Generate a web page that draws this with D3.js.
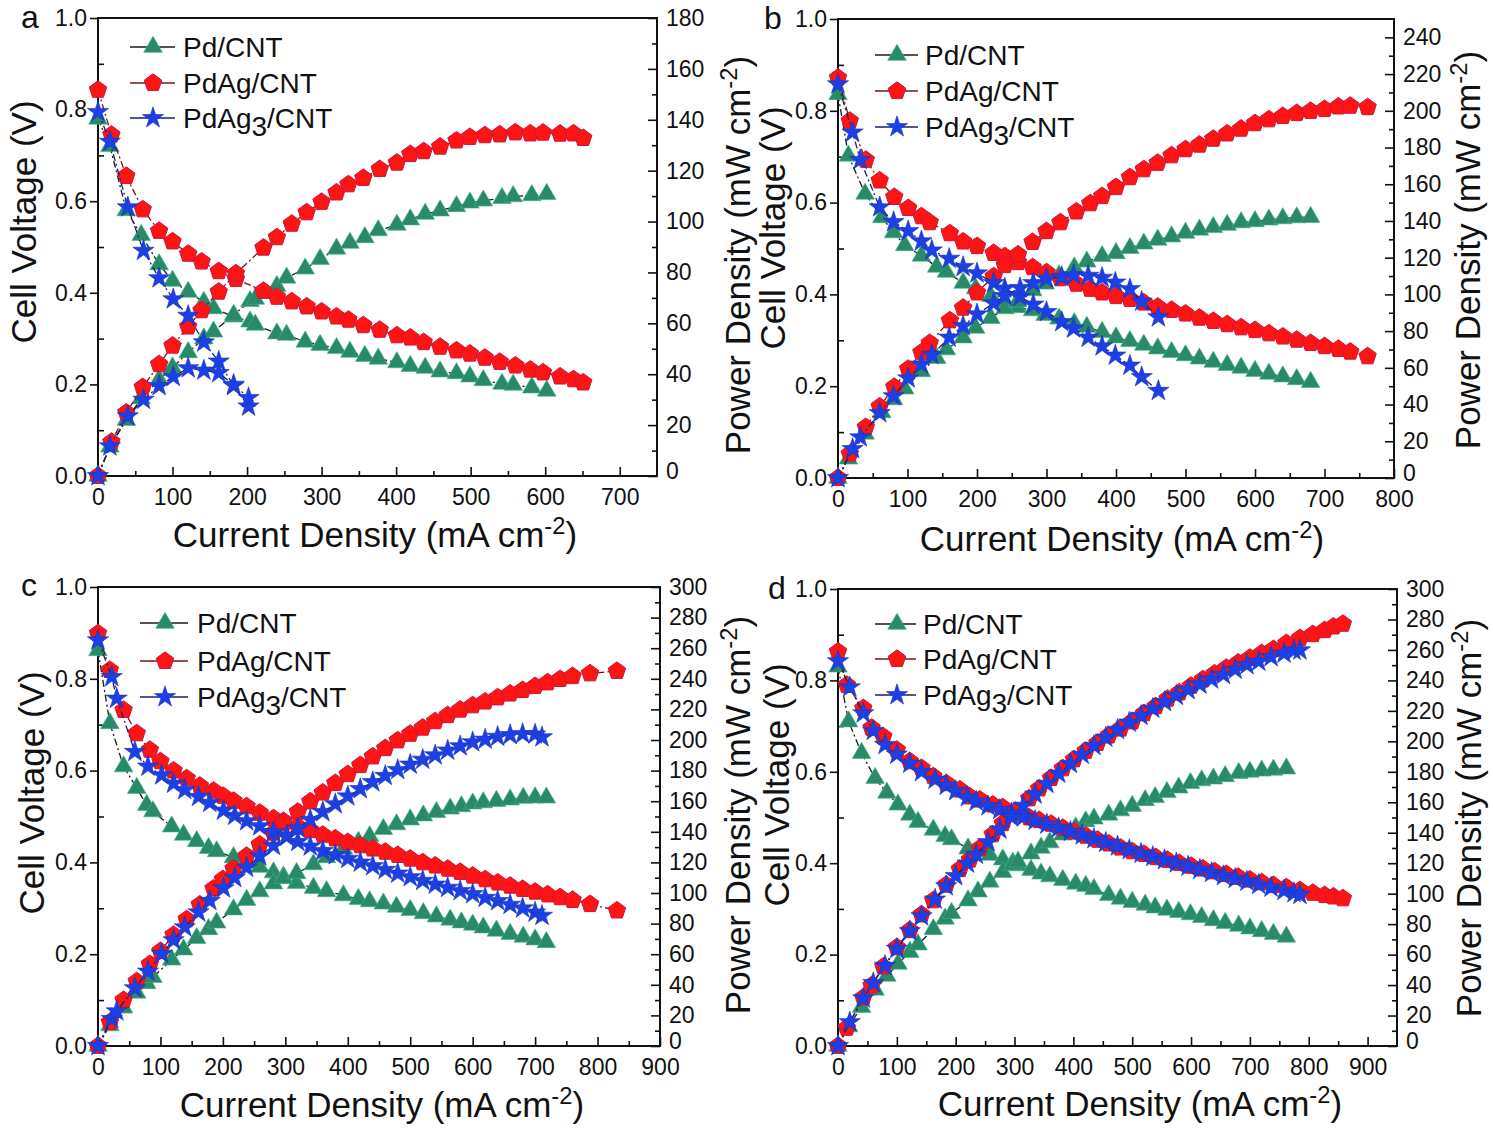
<!DOCTYPE html>
<html><head><meta charset="utf-8">
<script src="https://cdn.jsdelivr.net/npm/d3@7"></script>
<style>
body{margin:0;background:#fff}
svg{display:block}
text{font-family:"Liberation Sans",Arial,Helvetica,sans-serif;fill:#111}
</style>
</head><body>
<svg id="chart" width="1493" height="1131"></svg>
<script>
// ---------------- DATA ----------------
const seriesNames = ["Pd/CNT", "PdAg/CNT", "PdAg3/CNT"];
const voltTicks = [0, 0.2, 0.4, 0.6, 0.8, 1.0];
const aCurrentTicks = [0, 100, 200, 300, 400, 500, 600, 700];
const bCurrentTicks = [0, 100, 200, 300, 400, 500, 600, 700, 800];
const cCurrentTicks = [0, 100, 200, 300, 400, 500, 600, 700, 800, 900];
const dCurrentTicks = [0, 100, 200, 300, 400, 500, 600, 700, 800, 900];
const aPowerTicks = [0, 20, 40, 60, 80, 100, 120, 140, 160, 180];
const bPowerTicks = [0, 20, 40, 60, 80, 100, 120, 140, 160, 180, 200, 220, 240];
const cPowerTicks = [0, 20, 40, 60, 80, 100, 120, 140, 160, 180, 200, 220, 240, 260, 280, 300];
const dPowerTicks = [0, 20, 40, 60, 80, 100, 120, 140, 160, 180, 200, 220, 240, 260, 280, 300];

// panel a
const aPdI = [0,16,38,58,82,100,121,142,155,182,204,211,240,253,278,298,320,338,358,376,401,419,439,459,481,499,517,542,557,582,602];
const aPdV = [0.78,0.72,0.58,0.526,0.462,0.426,0.402,0.38,0.366,0.348,0.337,0.33,0.311,0.308,0.293,0.286,0.279,0.271,0.262,0.256,0.248,0.24,0.236,0.228,0.224,0.217,0.209,0.201,0.199,0.193,0.186];
const aPdP = [0,11.5,22,30.5,37.9,42.6,48.6,54,56.7,63.3,68.7,69.6,74.6,77.9,81.5,85.2,89.3,91.6,93.8,96.5,98.7,100.8,103,104.3,106,107.4,108.2,109.2,109.9,110.3,110.8];
const aAgI = [0,18,38,60,82,100,121,139,162,185,222,240,260,280,300,320,336,356,378,401,419,437,459,481,499,519,539,560,580,597,620,638,651];
const aAgV = [0.843,0.745,0.655,0.582,0.535,0.512,0.485,0.468,0.447,0.43,0.404,0.391,0.381,0.37,0.359,0.348,0.341,0.329,0.319,0.307,0.302,0.292,0.282,0.274,0.267,0.258,0.249,0.241,0.232,0.226,0.217,0.211,0.204];
const aAgP = [0,13.4,24.9,34.9,43.9,51.2,58.7,65.1,72.4,79.6,89.7,93.8,99.1,103.6,107.7,111.4,114.6,117.1,120.6,123.1,126.5,127.6,129.4,131.8,133.2,133.9,134.2,135,134.6,134.9,134.5,134.6,132.8];
const aAg3I = [0,16,40,61,82,101,121,142,162,182,202];
const aAg3V = [0.795,0.73,0.587,0.492,0.432,0.386,0.35,0.292,0.25,0.197,0.152];
const aAg3P = [0,11.7,23.5,30,35.4,39,42.4,41.5,40.5,35.9,30.7];

// panel b
const bPdI = [0,15,39,63,80,96,120,142,156,180,198,220,240,258,280,298,318,340,358,380,400,420,440,460,480,500,520,540,560,580,600,620,640,660,680];
const bPdV = [0.836,0.702,0.619,0.568,0.535,0.507,0.484,0.46,0.449,0.425,0.413,0.396,0.385,0.372,0.365,0.355,0.347,0.337,0.329,0.318,0.306,0.298,0.29,0.282,0.274,0.267,0.26,0.253,0.246,0.24,0.233,0.227,0.221,0.215,0.209];
const bPdP = [0,10.5,24.1,35.8,42.8,48.7,58.1,65.3,70,76.5,81.8,87.1,92.4,96,102.2,105.8,110.3,114.6,117.8,120.8,122.4,125.2,127.6,129.7,131.5,133.5,135.2,136.6,137.8,139.2,139.8,140.7,141.4,141.9,142.1];
const bAgI = [0,17,40,60,81,101,120,132,161,180,200,224,240,259,280,300,320,343,363,380,400,420,440,460,480,500,520,540,560,580,600,620,640,660,680,700,720,737,762];
const bAgV = [0.872,0.778,0.693,0.648,0.612,0.588,0.57,0.557,0.533,0.515,0.505,0.49,0.483,0.47,0.459,0.448,0.435,0.423,0.412,0.404,0.396,0.39,0.382,0.373,0.366,0.358,0.349,0.342,0.335,0.328,0.322,0.315,0.308,0.301,0.294,0.287,0.281,0.275,0.265];
const bAgP = [0,13.2,27.7,38.9,49.6,59.4,68.4,73.5,85.8,92.7,101,109.8,115.9,121.7,128.5,134.4,139.2,145.1,149.6,153.5,158.4,163.8,168.1,171.6,175.7,179,181.5,184.7,187.6,190.2,193.2,195.3,197.1,198.7,199.9,200.9,202.3,202.7,201.9];
const bAg3I = [0,21,32,60,80,101,120,135,160,180,200,224,240,262,281,300,322,339,360,380,399,420,437,461];
const bAg3V = [0.858,0.753,0.693,0.59,0.558,0.538,0.516,0.496,0.478,0.46,0.446,0.425,0.413,0.395,0.378,0.362,0.34,0.326,0.306,0.287,0.267,0.245,0.22,0.19];
const bAg3P = [0,15.8,22.2,35.4,44.6,54.3,61.9,67,76.5,82.8,89.2,95.2,99.1,103.5,106.2,108.6,109.5,110.5,110.2,109.1,106.5,102.9,96.1,87.6];

// panel c
const cPdI = [0,19,41,62,78,88,118,137,158,177,190,217,238,259,281,297,318,345,366,393,417,435,457,478,500,521,542,564,582,600,617,638,660,681,700,718];
const cPdV = [0.862,0.703,0.609,0.562,0.525,0.511,0.478,0.46,0.446,0.431,0.424,0.411,0.401,0.39,0.378,0.369,0.355,0.344,0.337,0.328,0.32,0.315,0.31,0.303,0.296,0.289,0.282,0.275,0.269,0.264,0.258,0.251,0.244,0.238,0.232,0.226];
const cPdP = [0,13.4,25,34.8,41,45,56.4,63,70.5,76.3,80.6,89.2,95.4,101,106.2,109.6,112.9,118.7,123.3,128.9,133.4,137,141.7,144.8,148,150.6,152.8,155.1,156.6,158.4,159.2,160.1,161,162.1,162.4,162.3];
const cAgI = [0,19,41,62,83,100,121,142,163,185,200,217,238,259,281,297,320,340,360,380,400,420,440,460,480,500,520,540,560,580,600,620,640,660,680,700,720,740,760,788,831];
const cAgV = [0.899,0.819,0.732,0.681,0.645,0.62,0.6,0.583,0.567,0.556,0.545,0.534,0.522,0.508,0.496,0.49,0.478,0.47,0.46,0.452,0.444,0.437,0.43,0.423,0.416,0.408,0.4,0.393,0.386,0.379,0.371,0.363,0.356,0.349,0.342,0.336,0.33,0.324,0.318,0.309,0.295];
const cAgP = [0,15.6,30,42.2,53.5,62,72.6,82.8,92.4,102.9,109,115.9,124.2,131.6,139.4,145.5,153,159.8,165.6,171.8,177.6,183.5,189.2,194.6,199.7,204,208,212.2,216.2,219.8,222.6,225.1,227.8,230.3,232.6,235.2,237.6,239.8,241.7,243.5,245.1];
const cAg3I = [0,22,30,59,80,102,121,139,161,179,201,219,238,259,281,302,320,340,360,380,400,420,440,460,480,500,520,540,560,580,600,620,640,660,680,700,711];
const cAg3V = [0.884,0.804,0.757,0.641,0.609,0.59,0.572,0.558,0.543,0.53,0.513,0.502,0.49,0.479,0.466,0.456,0.445,0.435,0.425,0.416,0.408,0.4,0.392,0.384,0.376,0.368,0.36,0.352,0.345,0.338,0.331,0.323,0.316,0.308,0.3,0.291,0.284];
const cAg3P = [0,17.7,22.7,37.8,48.7,60.2,69.2,77.6,87.4,94.9,103.1,109.9,116.6,124.1,130.9,137.7,142.4,147.9,153,158.1,163.2,168,172.5,176.6,180.5,184,187.2,190.1,193.2,196,198.6,200.3,202.2,203.3,204,203.7,201.9];

// panel d
const dPdI = [0,18,40,63,83,102,122,136,162,182,193,221,238,258,280,297,306,328,345,360,382,404,421,435,460,480,500,522,539,559,579,599,618,638,658,681,700,720,740,762];
const dPdV = [0.83,0.71,0.641,0.586,0.554,0.528,0.506,0.49,0.473,0.459,0.452,0.432,0.426,0.418,0.408,0.401,0.395,0.385,0.377,0.371,0.363,0.355,0.35,0.343,0.33,0.322,0.315,0.309,0.303,0.298,0.293,0.288,0.282,0.275,0.269,0.263,0.257,0.251,0.245,0.239];
const dPdP = [0,12.8,25.6,36.9,46,53.9,61.7,66.6,76.6,83.5,87.2,95.5,101.4,107.8,114.2,119.1,120.9,126.3,130.1,133.6,138.7,143.4,147.4,149.2,151.8,154.6,157.5,161.3,163.3,166.6,169.6,172.5,174.3,175.5,177,179.1,179.9,180.7,181.3,182.1];
const dAgI = [0,15,43,57,77,100,122,142,162,184,207,224,241,263,280,302,325,342,362,382,401,421,441,460,480,500,520,540,560,580,600,620,640,660,680,700,720,740,762,785,807,827,842,858];
const dAgV = [0.863,0.79,0.739,0.696,0.677,0.648,0.623,0.608,0.59,0.575,0.561,0.546,0.539,0.528,0.522,0.511,0.5,0.494,0.486,0.477,0.469,0.46,0.451,0.443,0.434,0.426,0.42,0.413,0.407,0.4,0.394,0.388,0.382,0.376,0.37,0.364,0.358,0.352,0.347,0.341,0.335,0.33,0.327,0.323];
const dAgP = [0,11.9,31.8,39.7,52.1,64.8,76,86.3,95.6,105.8,116.1,122.3,129.9,138.9,146.2,154.3,162.5,169,175.9,182.2,188.1,193.7,198.9,203.8,208.3,213,218.4,223,227.9,232,236.4,240.6,244.5,248.2,251.6,254.8,257.8,260.5,264.4,267.7,270.3,272.9,275.3,277.1];
const dAg3I = [0,20,43,60,80,100,122,142,165,184,200,220,235,255,275,295,315,335,355,375,395,415,435,455,475,495,515,535,555,575,595,615,635,655,675,695,715,736,758,775,785];
const dAg3V = [0.842,0.785,0.728,0.69,0.659,0.638,0.618,0.6,0.583,0.57,0.558,0.545,0.535,0.525,0.517,0.509,0.501,0.493,0.485,0.477,0.469,0.461,0.453,0.445,0.437,0.429,0.421,0.414,0.407,0.4,0.393,0.386,0.379,0.372,0.366,0.36,0.353,0.347,0.34,0.335,0.331];
const dAg3P = [0,15.7,31.3,41.4,52.7,63.8,75.4,85.2,96.2,104.9,111.6,119.9,125.7,133.9,142.2,150.2,157.8,165.2,172.2,178.9,185.3,191.3,197.1,202.5,207.6,212.4,216.8,221.5,225.9,230,233.8,237.4,240.7,243.7,247.1,250.2,252.4,255.4,257.7,259.6,259.8];

// ---------------- STYLE / LAYOUT ----------------
const symbolPentagon = {
  draw(ctx, size) {
    const r = Math.sqrt(size / 2.3776);
    for (let k = 0; k < 5; k++) {
      const a = -Math.PI / 2 + k * 2 * Math.PI / 5;
      const px = r * Math.cos(a), py = r * Math.sin(a);
      if (k) ctx.lineTo(px, py); else ctx.moveTo(px, py);
    }
    ctx.closePath();
  }
};
const styles = [
  {type: d3.symbolTriangle, size: 150, fill: "#2a8a68", stroke: "#40b08a", sw: 0.6, line: "#1a1a1a"},
  {type: symbolPentagon, size: 200, fill: "#ff1414", stroke: "#cc1540", sw: 1, line: "#7a1414"},
  {type: d3.symbolStar, size: 140, fill: "#1d40e6", stroke: "#1733b8", sw: 0.6, line: "#14206e"}
];

const panels = [
  {letter: "a", L: 98, R: 657, T: 18, B: 476, xMax: 750, pMax: 180, xTicks: aCurrentTicks, pTicks: aPowerTicks,
   data: [[aPdI, aPdV, aPdP], [aAgI, aAgV, aAgP], [aAg3I, aAg3V, aAg3P]],
   letterPos: [30, 28], xTitle: [375, 547], vTitle: [23, 222], pTitle: [737, 255],
   leg: {x1: 130, x2: 175, mx: 153, tx: 183, ys: [47, 83, 118]}},
  {letter: "b", L: 838, R: 1394, T: 19, B: 478, xMax: 800, pMax: 250, xTicks: bCurrentTicks, pTicks: bPowerTicks,
   data: [[bPdI, bPdV, bPdP], [bAgI, bAgV, bAgP], [bAg3I, bAg3V, bAg3P]],
   letterPos: [773, 29], xTitle: [1122, 551], vTitle: [772, 228], pTitle: [1467, 250],
   leg: {x1: 875, x2: 918, mx: 897, tx: 925, ys: [55, 91, 127]}},
  {letter: "c", L: 98, R: 660, T: 587, B: 1046, xMax: 900, pMax: 300, xTicks: cCurrentTicks, pTicks: cPowerTicks,
   data: [[cPdI, cPdV, cPdP], [cAgI, cAgV, cAgP], [cAg3I, cAg3V, cAg3P]],
   letterPos: [29, 596], xTitle: [382, 1117], vTitle: [31, 793], pTitle: [737, 815],
   leg: {x1: 140, x2: 188, mx: 165, tx: 197, ys: [623, 661, 697]}},
  {letter: "d", L: 838, R: 1397, T: 589, B: 1046, xMax: 950, pMax: 300, xTicks: dCurrentTicks, pTicks: dPowerTicks,
   data: [[dPdI, dPdV, dPdP], [dAgI, dAgV, dAgP], [dAg3I, dAg3V, dAg3P]],
   letterPos: [777, 599], xTitle: [1140, 1116], vTitle: [776, 785], pTitle: [1468, 818],
   leg: {x1: 875, x2: 916, mx: 897, tx: 923, ys: [624, 659, 695]}}
];

const TICK_FS = 23, TITLE_FS = 35, LEG_FS = 28;
const svg = d3.select("#chart");

function styleAxis(g) {
  g.attr("font-family", null).attr("font-size", null);
  g.selectAll(".domain").remove();
  g.selectAll(".tick line").attr("stroke", "#111").attr("stroke-width", 1.6);
  g.selectAll(".tick text").attr("font-size", TICK_FS).attr("fill", "#111");
}

function supTitle(sel, main, sup, tail, fs) {
  sel.text(main);
  sel.append("tspan").attr("font-size", fs * 0.68).attr("dy", -fs * 0.36).text(sup);
  sel.append("tspan").attr("dy", fs * 0.36).text(tail);
}

panels.forEach(p => {
  const g = svg.append("g");
  const x = d3.scaleLinear().domain([0, p.xMax]).range([p.L, p.R]);
  const yV = d3.scaleLinear().domain([0, 1]).range([p.B, p.T]);
  const yP = d3.scaleLinear().domain([0, p.pMax]).range([p.B, p.T]);

  // axes
  const minorX = d3.range(50, p.xMax, 100);
  g.append("g").attr("transform", `translate(0,${p.B})`)
    .call(d3.axisBottom(x).tickValues(p.xTicks).tickSize(-9).tickPadding(13).tickFormat(d3.format("d"))).call(styleAxis);
  g.append("g").attr("transform", `translate(0,${p.B})`)
    .call(d3.axisBottom(x).tickValues(minorX).tickSize(-5).tickFormat("")).call(styleAxis);
  g.append("g").attr("transform", `translate(${p.L},0)`)
    .call(d3.axisLeft(yV).tickValues(voltTicks).tickSize(8).tickPadding(3).tickFormat(d3.format(".1f"))).call(styleAxis);
  g.append("g").attr("transform", `translate(${p.L},0)`)
    .call(d3.axisLeft(yV).tickValues([0.1, 0.3, 0.5, 0.7, 0.9]).tickSize(-6).tickFormat("")).call(styleAxis);
  const rightAx = g.append("g").attr("transform", `translate(${p.R},0)`)
    .call(d3.axisRight(yP).tickValues(p.pTicks).tickSize(-9).tickPadding(9).tickFormat(d3.format("d"))).call(styleAxis);
  rightAx.selectAll(".tick text").filter(d => d === 0).attr("dy", "0.1em");
  g.append("g").attr("transform", `translate(${p.R},0)`)
    .call(d3.axisRight(yP).tickValues(d3.range(10, p.pMax, 20)).tickSize(-5).tickFormat("")).call(styleAxis);

  g.append("rect").attr("x", p.L).attr("y", p.T).attr("width", p.R - p.L).attr("height", p.B - p.T)
    .attr("fill", "none").attr("stroke", "#111").attr("stroke-width", 2);

  // series
  p.data.forEach((s, k) => {
    const st = styles[k];
    const [I, V, P] = s;
    const vPts = I.map((d, j) => [d, V[j]]);
    const pPts = I.map((d, j) => [d, P[j]]);
    const lineV = d3.line().x(d => x(d[0])).y(d => yV(d[1]));
    const lineP = d3.line().x(d => x(d[0])).y(d => yP(d[1]));
    [[vPts, lineV], [pPts, lineP]].forEach(([pts, ln]) => {
      g.append("path").attr("d", ln(pts)).attr("fill", "none").attr("stroke", st.line)
        .attr("stroke-width", 1.3).attr("stroke-dasharray", "7,3,2,3");
    });
    const sym = d3.symbol().type(st.type).size(st.size);
    [[vPts, yV], [pPts, yP]].forEach(([pts, ys]) => {
      g.append("g").selectAll("path").data(pts).join("path")
        .attr("d", sym).attr("transform", d => `translate(${x(d[0])},${ys(d[1])})`)
        .attr("fill", st.fill).attr("stroke", st.stroke).attr("stroke-width", st.sw);
    });
  });

  // legend
  seriesNames.forEach((name, k) => {
    const st = styles[k];
    const y = p.leg.ys[k];
    g.append("line").attr("x1", p.leg.x1).attr("x2", p.leg.x2).attr("y1", y).attr("y2", y)
      .attr("stroke", st.line).attr("stroke-width", 1.6);
    g.append("path").attr("d", d3.symbol().type(st.type).size(st.size)())
      .attr("transform", `translate(${p.leg.mx},${y})`).attr("fill", st.fill).attr("stroke", st.stroke).attr("stroke-width", st.sw);
    const t = g.append("text").attr("x", p.leg.tx).attr("y", y).attr("dy", "0.36em").attr("font-size", LEG_FS);
    if (name === "PdAg3/CNT") {
      t.text("PdAg");
      t.append("tspan").attr("dy", LEG_FS * 0.28).text("3");
      t.append("tspan").attr("dy", -LEG_FS * 0.28).text("/CNT");
    } else t.text(name);
  });

  // panel letter
  g.append("text").attr("x", p.letterPos[0]).attr("y", p.letterPos[1]).attr("text-anchor", "middle")
    .attr("font-size", 32).text(p.letter);

  // x title
  const xt = g.append("text").attr("x", p.xTitle[0]).attr("y", p.xTitle[1]).attr("text-anchor", "middle").attr("font-size", TITLE_FS);
  supTitle(xt, "Current Density (mA cm", "-2", ")", TITLE_FS);
  // left title
  g.append("text").attr("transform", `translate(${p.vTitle[0]},${p.vTitle[1]}) rotate(-90)`)
    .attr("text-anchor", "middle").attr("dy", "0.36em").attr("font-size", TITLE_FS).text("Cell Voltage (V)");
  // right title
  const pt = g.append("text").attr("transform", `translate(${p.pTitle[0]},${p.pTitle[1]}) rotate(-90)`)
    .attr("text-anchor", "middle").attr("dy", "0.36em").attr("font-size", TITLE_FS);
  pt.text("Power Density (mW cm");
  pt.append("tspan").attr("font-size", TITLE_FS * 0.68).attr("dy", -TITLE_FS * 0.36).text("-2");
  pt.append("tspan").attr("dy", TITLE_FS * 0.36).text(")");
});
</script>
</body></html>
